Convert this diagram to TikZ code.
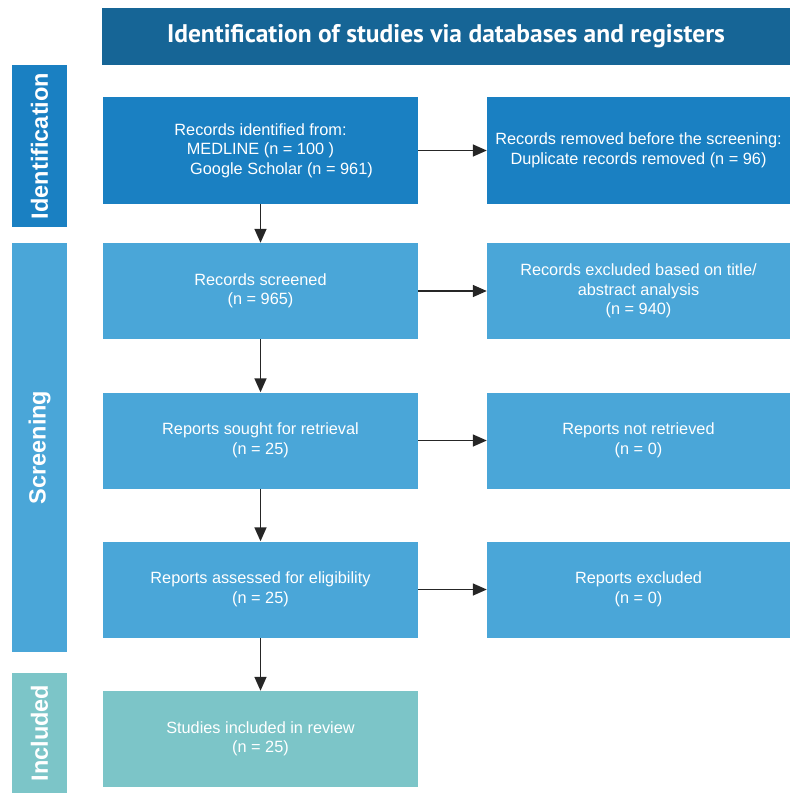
\documentclass[tikz,border=0pt]{standalone}
\usepackage{fontspec}
\setmainfont{Liberation Sans}
\newfontfamily\headfont{PT Sans}
\usepackage{xcolor}
\usepackage{tikz}
\usetikzlibrary{arrows.meta}

\definecolor{headblue}{HTML}{166596}
\definecolor{idblue}{HTML}{1A80C2}
\definecolor{scrblue}{HTML}{4AA6D8}
\definecolor{incteal}{HTML}{7CC5C8}

\begin{document}
\begin{tikzpicture}[x=1pt, y=-1pt,
    box/.style={fill=#1, text=white, align=center, inner sep=0pt, font=\fontsize{16.3}{19.5}\selectfont},
    leftbox/.style={box=#1, minimum width=315pt, minimum height=96pt},
    rightbox/.style={box=#1, minimum width=303pt, minimum height=96pt},
    phase/.style={fill=#1, text=white, rotate=90, inner sep=0pt, minimum height=55pt, font=\bfseries\fontsize{23.5}{26}\selectfont},
    flow/.style={line width=1.5pt, draw=black!85, -{Triangle[length=14pt,width=12pt]}}]
    \useasboundingbox (0,0) rectangle (790,793);

    % Header
    \node[fill=headblue, text=white, minimum width=688pt, minimum height=57pt, inner sep=0pt,
          font=\headfont\bfseries\fontsize{25.5}{28}\selectfont] (head) at (446,36.5)
          {Identification of studies via databases and registers};

    % Phases
    \node[phase=idblue, minimum width=162pt] (idphase) at (39.5,146) {Identification};
    \node[phase=scrblue, minimum width=409pt] (scrphase) at (39.5,447.5) {Screening};
    \node[phase=incteal, minimum width=120pt] (incphase) at (39.5,733) {Included};

    % Left column
    \node[leftbox=idblue, minimum height=107pt] (ident) at (260.5,150.5)
        {Records identified from:\\MEDLINE (n = 100 )\\\hspace*{42pt}Google Scholar (n = 961)};
    \node[leftbox=scrblue] (screened) at (260.5,291) {Records screened\\(n = 965)};
    \node[leftbox=scrblue] (sought) at (260.5,440.5) {Reports sought for retrieval\\(n = 25)};
    \node[leftbox=scrblue] (assessed) at (260.5,589.5) {Reports assessed for eligibility\\(n = 25)};
    \node[leftbox=incteal] (included) at (260.5,739) {Studies included in review\\(n = 25)};

    % Right column
    \node[rightbox=idblue, minimum height=107pt] (removed) at (638.5,150.5)
        {Records removed before the screening:\\Duplicate records removed (n = 96)};
    \node[rightbox=scrblue] (excluded) at (638.5,291)
        {Records excluded based on title/\\abstract analysis\\(n = 940)};
    \node[rightbox=scrblue] (notretr) at (638.5,440.5) {Reports not retrieved\\(n = 0)};
    \node[rightbox=scrblue] (repexcl) at (638.5,589.5) {Reports excluded\\(n = 0)};

    % Arrows
    \draw[flow] (ident) -- (screened);
    \draw[flow] (screened) -- (sought);
    \draw[flow] (sought) -- (assessed);
    \draw[flow] (assessed) -- (included);
    \draw[flow] (ident) -- (removed);
    \draw[flow] (screened) -- (excluded);
    \draw[flow] (sought) -- (notretr);
    \draw[flow] (assessed) -- (repexcl);
\end{tikzpicture}
\end{document}
